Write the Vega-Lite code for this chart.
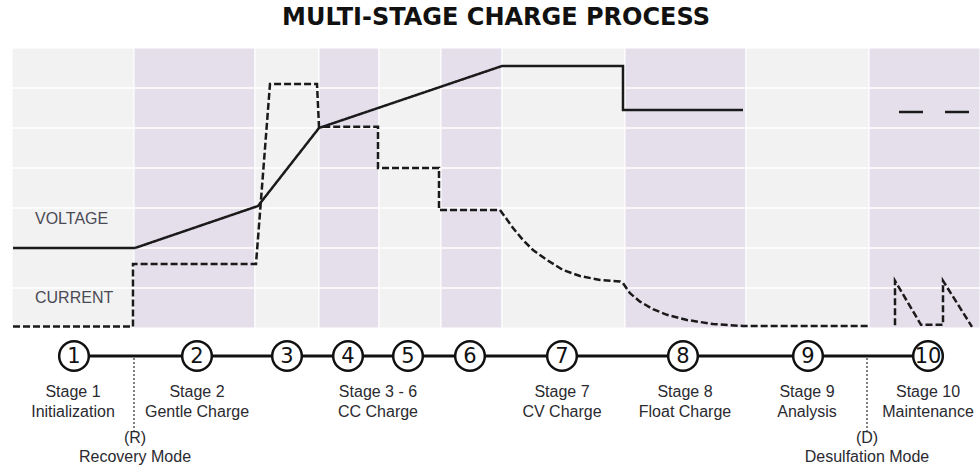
{
  "$schema": "https://vega.github.io/schema/vega-lite/v6.json",
  "width": 968,
  "height": 280,
  "autosize": {"type": "none"},
  "padding": {"left": 12, "top": 48, "right": 0, "bottom": 138},
  "background": "#ffffff",
  "config": {"view": {"stroke": null}},
  "title": {
    "text": "MULTI-STAGE CHARGE PROCESS",
    "font": "DejaVu Sans",
    "fontSize": 24,
    "fontWeight": "bold",
    "color": "#111111",
    "anchor": "middle",
    "frame": "group",
    "offset": 18
  },
  "datasets": {
    "bands": [
      {"x0": 12, "x1": 134, "c": "a"},
      {"x0": 134, "x1": 255, "c": "b"},
      {"x0": 255, "x1": 319, "c": "a"},
      {"x0": 319, "x1": 379, "c": "b"},
      {"x0": 379, "x1": 441, "c": "a"},
      {"x0": 441, "x1": 502, "c": "b"},
      {"x0": 502, "x1": 625, "c": "a"},
      {"x0": 625, "x1": 746, "c": "b"},
      {"x0": 746, "x1": 869, "c": "a"},
      {"x0": 869, "x1": 980, "c": "b"}
    ],
    "grid": [{"g": 1}, {"g": 2}, {"g": 3}, {"g": 4}, {"g": 5}, {"g": 6}],
    "series": [
      {"series": "Voltage", "seg": "v1", "i": 1, "x": 13, "y": 2.0},
      {"series": "Voltage", "seg": "v1", "i": 2, "x": 135, "y": 2.0},
      {"series": "Voltage", "seg": "v1", "i": 3, "x": 258, "y": 3.05},
      {"series": "Voltage", "seg": "v1", "i": 4, "x": 319, "y": 5.0},
      {"series": "Voltage", "seg": "v1", "i": 5, "x": 502, "y": 6.55},
      {"series": "Voltage", "seg": "v1", "i": 6, "x": 623, "y": 6.55},
      {"series": "Voltage", "seg": "v1", "i": 7, "x": 623, "y": 5.45},
      {"series": "Voltage", "seg": "v1", "i": 8, "x": 743, "y": 5.45},
      {"series": "Voltage", "seg": "v2", "i": 1, "x": 899, "y": 5.4},
      {"series": "Voltage", "seg": "v2", "i": 2, "x": 923, "y": 5.4},
      {"series": "Voltage", "seg": "v3", "i": 1, "x": 945, "y": 5.4},
      {"series": "Voltage", "seg": "v3", "i": 2, "x": 969, "y": 5.4},
      {"series": "Current", "seg": "c1", "i": 1, "x": 13, "y": 0.04},
      {"series": "Current", "seg": "c1", "i": 2, "x": 133, "y": 0.04},
      {"series": "Current", "seg": "c1", "i": 3, "x": 133, "y": 1.6},
      {"series": "Current", "seg": "c1", "i": 4, "x": 256, "y": 1.6},
      {"series": "Current", "seg": "c1", "i": 5, "x": 270, "y": 6.1},
      {"series": "Current", "seg": "c1", "i": 6, "x": 317, "y": 6.1},
      {"series": "Current", "seg": "c1", "i": 7, "x": 319, "y": 5.03},
      {"series": "Current", "seg": "c1", "i": 8, "x": 378, "y": 5.03},
      {"series": "Current", "seg": "c1", "i": 9, "x": 378, "y": 4.0},
      {"series": "Current", "seg": "c1", "i": 10, "x": 439, "y": 4.0},
      {"series": "Current", "seg": "c1", "i": 11, "x": 439, "y": 2.95},
      {"series": "Current", "seg": "c1", "i": 12, "x": 500, "y": 2.95},
      {"series": "Current", "seg": "c1", "i": 13, "x": 505, "y": 2.78},
      {"series": "Current", "seg": "c1", "i": 14, "x": 513, "y": 2.5},
      {"series": "Current", "seg": "c1", "i": 15, "x": 523, "y": 2.2},
      {"series": "Current", "seg": "c1", "i": 16, "x": 533, "y": 1.95},
      {"series": "Current", "seg": "c1", "i": 17, "x": 547, "y": 1.7},
      {"series": "Current", "seg": "c1", "i": 18, "x": 563, "y": 1.45},
      {"series": "Current", "seg": "c1", "i": 19, "x": 580, "y": 1.3},
      {"series": "Current", "seg": "c1", "i": 20, "x": 600, "y": 1.2},
      {"series": "Current", "seg": "c1", "i": 21, "x": 620, "y": 1.16},
      {"series": "Current", "seg": "c1", "i": 22, "x": 623, "y": 1.12},
      {"series": "Current", "seg": "c1", "i": 23, "x": 630, "y": 0.87},
      {"series": "Current", "seg": "c1", "i": 24, "x": 640, "y": 0.66},
      {"series": "Current", "seg": "c1", "i": 25, "x": 653, "y": 0.47},
      {"series": "Current", "seg": "c1", "i": 26, "x": 667, "y": 0.33},
      {"series": "Current", "seg": "c1", "i": 27, "x": 687, "y": 0.2},
      {"series": "Current", "seg": "c1", "i": 28, "x": 713, "y": 0.1},
      {"series": "Current", "seg": "c1", "i": 29, "x": 743, "y": 0.05},
      {"series": "Current", "seg": "c1", "i": 30, "x": 868, "y": 0.05},
      {"series": "Current", "seg": "c2", "i": 1, "x": 895, "y": 0.07},
      {"series": "Current", "seg": "c2", "i": 2, "x": 895, "y": 1.18},
      {"series": "Current", "seg": "c2", "i": 3, "x": 921, "y": 0.08},
      {"series": "Current", "seg": "c2", "i": 4, "x": 943, "y": 0.08},
      {"series": "Current", "seg": "c2", "i": 5, "x": 943, "y": 1.18},
      {"series": "Current", "seg": "c2", "i": 6, "x": 972, "y": 0.03}
    ],
    "labels": [
      {"x": 35, "y": 2.72, "t": "VOLTAGE"},
      {"x": 35, "y": 0.75, "t": "CURRENT"}
    ],
    "stages": [
      {"x": 74, "n": "1"},
      {"x": 197, "n": "2"},
      {"x": 287, "n": "3"},
      {"x": 348, "n": "4"},
      {"x": 408, "n": "5"},
      {"x": 470, "n": "6"},
      {"x": 562, "n": "7"},
      {"x": 683, "n": "8"},
      {"x": 808, "n": "9"},
      {"x": 928, "n": "10"}
    ],
    "stageText": [
      {"x": 73, "t": "Stage 1\nInitialization"},
      {"x": 197, "t": "Stage 2\nGentle Charge"},
      {"x": 378, "t": "Stage 3 - 6\nCC Charge"},
      {"x": 562, "t": "Stage 7\nCV Charge"},
      {"x": 685, "t": "Stage 8\nFloat Charge"},
      {"x": 807, "t": "Stage 9\nAnalysis"},
      {"x": 928, "t": "Stage 10\nMaintenance"}
    ],
    "modes": [
      {"x": 134, "tx": 135, "t": "(R)\nRecovery Mode"},
      {"x": 867, "tx": 867, "t": "(D)\nDesulfation Mode"}
    ]
  },
  "layer": [
    {
      "data": {"name": "bands"},
      "mark": {"type": "rect", "stroke": "#ffffff", "strokeWidth": 1},
      "encoding": {
        "x": {"field": "x0", "type": "quantitative", "scale": {"domain": [12, 980], "nice": false, "zero": false}, "axis": null},
        "x2": {"field": "x1"},
        "y": {"datum": 0, "type": "quantitative", "scale": {"domain": [0, 7], "nice": false, "zero": false}, "axis": null},
        "y2": {"datum": 7},
        "color": {"field": "c", "type": "nominal", "scale": {"domain": ["a", "b"], "range": ["#f2f2f2", "#e5dfec"]}, "legend": null}
      }
    },
    {
      "data": {"name": "grid"},
      "mark": {"type": "rule", "color": "#ffffff", "strokeWidth": 1.5},
      "encoding": {
        "y": {"field": "g", "type": "quantitative", "scale": {"domain": [0, 7], "nice": false, "zero": false}, "axis": null}
      }
    },
    {
      "data": {"name": "series"},
      "mark": {"type": "line", "color": "#1a1a1a", "strokeWidth": 2.5},
      "encoding": {
        "x": {"field": "x", "type": "quantitative", "scale": {"domain": [12, 980], "nice": false, "zero": false}, "axis": null},
        "y": {"field": "y", "type": "quantitative", "scale": {"domain": [0, 7], "nice": false, "zero": false}, "axis": null},
        "detail": {"field": "seg", "type": "nominal"},
        "order": {"field": "i", "type": "quantitative"},
        "strokeDash": {"field": "series", "type": "nominal", "scale": {"domain": ["Voltage", "Current"], "range": [[1, 0], [7, 3]]}, "legend": null}
      }
    },
    {
      "data": {"name": "labels"},
      "mark": {"type": "text", "align": "left", "baseline": "middle", "font": "Liberation Sans", "fontSize": 16, "color": "#4a4a55"},
      "encoding": {
        "x": {"field": "x", "type": "quantitative", "scale": {"domain": [12, 980], "nice": false, "zero": false}, "axis": null},
        "y": {"field": "y", "type": "quantitative", "scale": {"domain": [0, 7], "nice": false, "zero": false}, "axis": null},
        "text": {"field": "t"}
      }
    },
    {
      "data": {"name": "stages"},
      "mark": {"type": "line", "color": "#111111", "strokeWidth": 3},
      "encoding": {
        "x": {"field": "x", "type": "quantitative", "scale": {"domain": [12, 980], "nice": false, "zero": false}, "axis": null},
        "y": {"datum": -0.7, "type": "quantitative", "scale": {"domain": [0, 7], "nice": false, "zero": false}, "axis": null}
      }
    },
    {
      "data": {"name": "modes"},
      "mark": {"type": "rule", "color": "#555555", "strokeWidth": 1.5, "strokeDash": [2, 2]},
      "encoding": {
        "x": {"field": "x", "type": "quantitative", "scale": {"domain": [12, 980], "nice": false, "zero": false}, "axis": null},
        "y": {"datum": -0.75, "type": "quantitative", "scale": {"domain": [0, 7], "nice": false, "zero": false}, "axis": null},
        "y2": {"datum": -2.6}
      }
    },
    {
      "data": {"name": "stages"},
      "mark": {"type": "point", "shape": "circle", "filled": false, "fill": "#ffffff", "fillOpacity": 1, "stroke": "#111111", "strokeWidth": 2.5, "size": 880, "opacity": 1},
      "encoding": {
        "x": {"field": "x", "type": "quantitative", "scale": {"domain": [12, 980], "nice": false, "zero": false}, "axis": null},
        "y": {"datum": -0.7, "type": "quantitative", "scale": {"domain": [0, 7], "nice": false, "zero": false}, "axis": null}
      }
    },
    {
      "data": {"name": "stages"},
      "mark": {"type": "text", "align": "center", "baseline": "middle", "dy": 1, "font": "DejaVu Sans", "fontSize": 21, "color": "#111111"},
      "encoding": {
        "x": {"field": "x", "type": "quantitative", "scale": {"domain": [12, 980], "nice": false, "zero": false}, "axis": null},
        "y": {"datum": -0.7, "type": "quantitative", "scale": {"domain": [0, 7], "nice": false, "zero": false}, "axis": null},
        "text": {"field": "n"}
      }
    },
    {
      "data": {"name": "stageText"},
      "mark": {"type": "text", "align": "center", "baseline": "alphabetic", "lineBreak": "\n", "lineHeight": 20, "font": "Liberation Sans", "fontSize": 16, "color": "#2a2a30"},
      "encoding": {
        "x": {"field": "x", "type": "quantitative", "scale": {"domain": [12, 980], "nice": false, "zero": false}, "axis": null},
        "y": {"datum": -1.725, "type": "quantitative", "scale": {"domain": [0, 7], "nice": false, "zero": false}, "axis": null},
        "text": {"field": "t"}
      }
    },
    {
      "data": {"name": "modes"},
      "mark": {"type": "text", "align": "center", "baseline": "alphabetic", "lineBreak": "\n", "lineHeight": 19, "font": "Liberation Sans", "fontSize": 16, "color": "#2a2a30"},
      "encoding": {
        "x": {"field": "tx", "type": "quantitative", "scale": {"domain": [12, 980], "nice": false, "zero": false}, "axis": null},
        "y": {"datum": -2.875, "type": "quantitative", "scale": {"domain": [0, 7], "nice": false, "zero": false}, "axis": null},
        "text": {"field": "t"}
      }
    }
  ]
}
